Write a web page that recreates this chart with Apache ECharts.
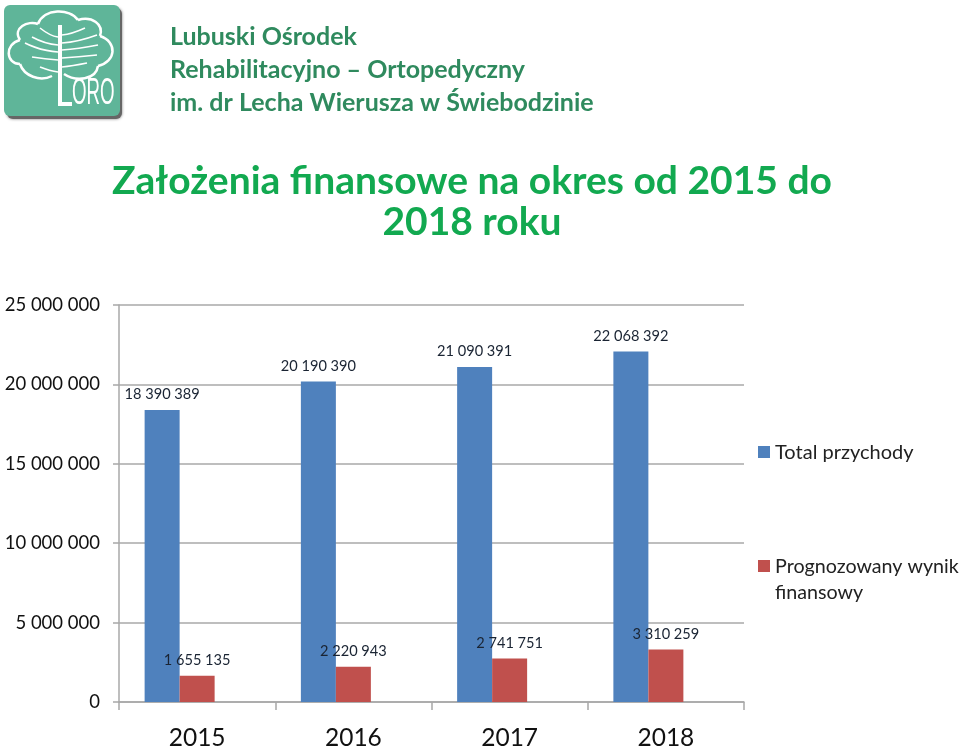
<!DOCTYPE html>
<html><head><meta charset="utf-8">
<style>html,body{margin:0;padding:0;background:#fff}#c{width:960px;height:747px}</style>
<script src="https://cdn.jsdelivr.net/npm/echarts@6/dist/echarts.min.js"></script>
</head><body><div id="c"></div>
<script>
const categories = ['2015','2016','2017','2018'];
const totalPrzychody = [18390389,20190390,21090391,22068392];
const prognozowanyWynik = [1655135,2220943,2741751,3310259];
const emptySlot = [null,null,null,null];
const seriesNames = ['Total przychody','Prognozowany wynik\nfinansowy'];
const headerLines = ['Lubuski Ośrodek','Rehabilitacyjno – Ortopedyczny','im. dr Lecha Wierusza w Świebodzinie'];
const titleLines = ['Założenia finansowe na okres od 2015 do','2018 roku'];
const FONT='Lato';
const fmt=v=>String(v).replace(/\B(?=(\d{3})+$)/g,' ');
const chart=echarts.init(document.getElementById('c'),null,{renderer:'canvas'});
const lbl={show:true,position:'top',distance:8,color:'#1a2433',fontFamily:FONT,fontSize:14.6,formatter:p=>fmt(p.value)};
const crown=[[52,76,40,82,24,76,20,64],[20,64,6,64,4,44,20,40],[20,40,12,28,28,20,38,24],[38,24,44,8,70,8,78,20],[78,20,92,16,104,24,100,36],[100,36,118,42,116,62,98,66],[98,66,96,80,76,82,64,74]];
const branches=[[58,37,50,36,40,28],[58,45,45,44,32,37],[58,52,40,51,25,43],[58,60,45,59,32,57],[58,72,50,71,40,67],[62,35,72,34,85,28],[62,43,78,42,97,35],[62,50,78,49,98,45],[62,58,78,57,97,55],[62,67,72,66,87,63]];
const curve=(c,w)=>({type:'bezierCurve',shape:{x1:c[0],y1:c[1],cpx1:c[2],cpy1:c[3],cpx2:c[4],cpy2:c[5],x2:c.length>6?c[6]:c[4],y2:c.length>6?c[7]:c[5]},style:{fill:'none',stroke:'#fff',lineWidth:w}});
chart.setOption({
 animation:false,backgroundColor:'#fff',
 textStyle:{fontFamily:FONT},
 title:[
  ...headerLines.map((t,i)=>({text:t,left:170,top:24+i*33,padding:0,textStyle:{fontFamily:FONT,fontSize:25,fontWeight:'bold',color:'#2f8a5e'}})),
  ...titleLines.map((t,i)=>({text:t,left:472,textAlign:'center',top:162+i*41,padding:0,textStyle:{fontFamily:FONT,fontSize:39,fontWeight:'bold',color:'#12a950'}}))
 ],
 grid:{left:119,top:305,width:625,height:397,containLabel:false,outerBoundsMode:'none'},
 legend:{show:false},
 xAxis:{type:'category',data:categories,
  axisLine:{lineStyle:{color:'#a8a8a8',width:1.5}},
  axisTick:{show:true,length:8,lineStyle:{color:'#a8a8a8',width:1.5}},
  axisLabel:{color:'#111',fontFamily:FONT,fontSize:24.5,margin:36,verticalAlign:'middle'}},
 yAxis:{type:'value',min:0,max:25000000,interval:5000000,
  axisLine:{show:true,lineStyle:{color:'#a8a8a8',width:1.5}},
  axisTick:{show:true,length:6,lineStyle:{color:'#a8a8a8',width:1.5}},
  splitLine:{show:true,lineStyle:{color:'#a8a8a8',width:1.5}},
  axisLabel:{color:'#111',fontFamily:FONT,fontSize:18.5,margin:19,formatter:v=>fmt(v)}},
 series:[
  {name:seriesNames[0],type:'bar',data:totalPrzychody,barWidth:35,barGap:0,itemStyle:{color:'#4f81bd'},label:lbl},
  {name:seriesNames[1],type:'bar',data:prognozowanyWynik,barWidth:35,barGap:0,itemStyle:{color:'#c0504d'},label:lbl},
  {name:'',type:'bar',data:emptySlot,barWidth:35,barGap:0}
 ],
 graphic:[
  {type:'rect',shape:{x:7,y:8,width:115,height:111,r:6},style:{fill:'#666',shadowBlur:3,shadowColor:'#777'}},
  {type:'rect',shape:{x:4,y:5,width:116,height:111,r:6},style:{fill:'#5fb599'}},
  ...crown.map(c=>curve(c,2.5)),
  ...branches.map(c=>curve(c,1.6)),
  {type:'rect',shape:{x:58,y:25,width:4,height:80},style:{fill:'#fff'}},
  {type:'rect',shape:{x:58,y:102,width:14,height:4},style:{fill:'#fff'}},
  {type:'text',x:72,y:76,scaleX:0.52,style:{text:'ORO',fill:'#fff',fontFamily:'Liberation Sans',fontSize:36}},
  {type:'rect',shape:{x:758,y:446,width:12,height:12},style:{fill:'#4f81bd'}},
  {type:'rect',shape:{x:758,y:560,width:12,height:12},style:{fill:'#c0504d'}},
  {type:'text',x:775,y:443,style:{text:seriesNames[0],fill:'#222',fontFamily:FONT,fontSize:20}},
  {type:'text',x:775,y:554,style:{text:seriesNames[1],fill:'#222',fontFamily:FONT,fontSize:19.7,lineHeight:26}}
 ]
});
</script></body></html>
